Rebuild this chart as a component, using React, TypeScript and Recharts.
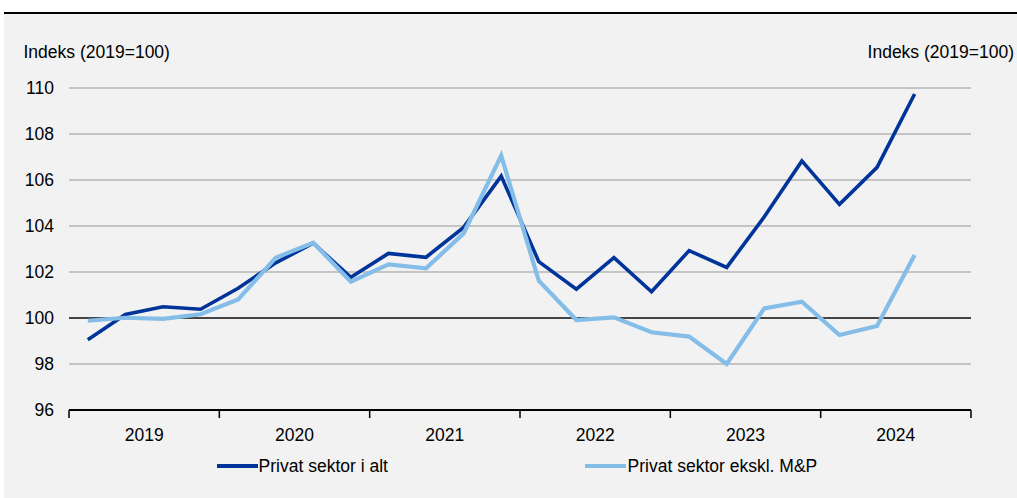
import React from 'react';
import { ComposedChart, Line, XAxis, YAxis, CartesianGrid, ReferenceLine } from 'recharts';

const quarters = [
  '2019K1', '2019K2', '2019K3', '2019K4',
  '2020K1', '2020K2', '2020K3', '2020K4',
  '2021K1', '2021K2', '2021K3', '2021K4',
  '2022K1', '2022K2', '2022K3', '2022K4',
  '2023K1', '2023K2', '2023K3', '2023K4',
  '2024K1', '2024K2', '2024K3', '2024K4',
];

const privatIAlt: (number | null)[] = [
  99.05, 100.15, 100.49, 100.38, 101.29, 102.4, 103.25, 101.77,
  102.81, 102.64, 103.94, 106.17, 102.45, 101.25, 102.62, 101.14,
  102.93, 102.2, 104.4, 106.83, 104.94, 106.55, 109.74, null,
];

const privatEkskl: (number | null)[] = [
  99.88, 100.01, 99.96, 100.16, 100.81, 102.62, 103.27, 101.58,
  102.33, 102.16, 103.68, 107.06, 101.62, 99.91, 100.03, 99.38,
  99.19, 98.0, 100.42, 100.71, 99.26, 99.65, 102.74, null,
];

const years = ['2019', '2020', '2021', '2022', '2023', '2024'];
const yTicks = [96, 98, 100, 102, 104, 106, 108, 110];
const xTicks = [0, 2, 4, 6, 8, 10, 12, 14, 16, 18, 20, 22, 24];

const seriesNames = ['Privat sektor i alt', 'Privat sektor ekskl. M&P'];
const DARK = '#00349a';
const LIGHT = '#85bde9';
const FONT = '"Liberation Sans", Arial, sans-serif';
const FS = 17.5;

const data = quarters.map((q, i) => ({
  x: i + 0.5,
  q,
  total: privatIAlt[i],
  ekskl: privatEkskl[i],
}));

const XTick = (props: any) => {
  const { x, y, payload } = props;
  const v = payload.value as number;
  if (v % 4 === 0) {
    return <line x1={x} x2={x} y1={y} y2={y + 8} stroke="#000" strokeWidth={1.5} />;
  }
  const label = years[(v - 2) / 4];
  return (
    <text x={x} y={y + 31} textAnchor="middle" fontFamily={FONT} fontSize={FS} fill="#000">
      {label}
    </text>
  );
};

export default function App() {
  return (
    <div style={{ position: 'absolute', left: 0, top: 0, width: 1017, height: 498, background: '#fff', overflow: 'hidden' }}>
      <div style={{ position: 'absolute', left: 4, top: 14, width: 1013, height: 484, background: '#f2f2f2' }} />
      <div style={{ position: 'absolute', left: 4, top: 12, width: 1013, height: 2, background: '#000' }} />
      <div style={{ position: 'absolute', left: 0, top: 0 }}>
        <ComposedChart width={1017} height={498} data={data} margin={{ top: 88, right: 0, bottom: 0, left: 0 }}>
          <CartesianGrid vertical={false} stroke="#b4b4b4" strokeWidth={1.3} />
          <XAxis
            dataKey="x"
            type="number"
            domain={[0, 24]}
            ticks={xTicks}
            interval={0}
            height={88}
            tickSize={0}
            tickMargin={0}
            tickLine={false}
            axisLine={{ stroke: '#000', strokeWidth: 2 }}
            tick={<XTick />}
          />
          <YAxis
            domain={[96, 110]}
            ticks={yTicks}
            interval={0}
            width={69}
            axisLine={false}
            tickLine={false}
            tickSize={0}
            tickMargin={15}
            tick={{ fill: '#000', fontSize: FS, fontFamily: FONT }}
          />
          <YAxis
            yAxisId="right"
            orientation="right"
            domain={[96, 110]}
            ticks={yTicks}
            interval={0}
            width={46}
            axisLine={false}
            tickLine={false}
            tickSize={0}
            tickMargin={15}
            tick={{ fill: '#000', fontSize: FS, fontFamily: FONT, textAnchor: 'start' }}
          />
          <ReferenceLine y={100} stroke="#1a1a1a" strokeWidth={1.3} />
          <Line
            dataKey="total"
            name={seriesNames[0]}
            type="linear"
            stroke={DARK}
            strokeWidth={3.6}
            dot={false}
            isAnimationActive={false}
          />
          <Line
            dataKey="ekskl"
            name={seriesNames[1]}
            type="linear"
            stroke={LIGHT}
            strokeWidth={4.2}
            dot={false}
            isAnimationActive={false}
          />
        </ComposedChart>
      </div>
      <svg width={1017} height={498} style={{ position: 'absolute', left: 0, top: 0, pointerEvents: 'none' }}>
        <text x={23.5} y={57.5} fontFamily={FONT} fontSize={FS} fill="#000">Indeks (2019=100)</text>
        <text x={1014} y={57.5} textAnchor="end" fontFamily={FONT} fontSize={FS} fill="#000">Indeks (2019=100)</text>
        <line x1={217} x2={258} y1={466} y2={466} stroke={DARK} strokeWidth={4} />
        <text x={258.6} y={472} fontFamily={FONT} fontSize={FS} fill="#000">{seriesNames[0]}</text>
        <line x1={585} x2={626} y1={466} y2={466} stroke={LIGHT} strokeWidth={4} />
        <text x={627.6} y={472} fontFamily={FONT} fontSize={FS} fill="#000">{seriesNames[1]}</text>
      </svg>
    </div>
  );
}
